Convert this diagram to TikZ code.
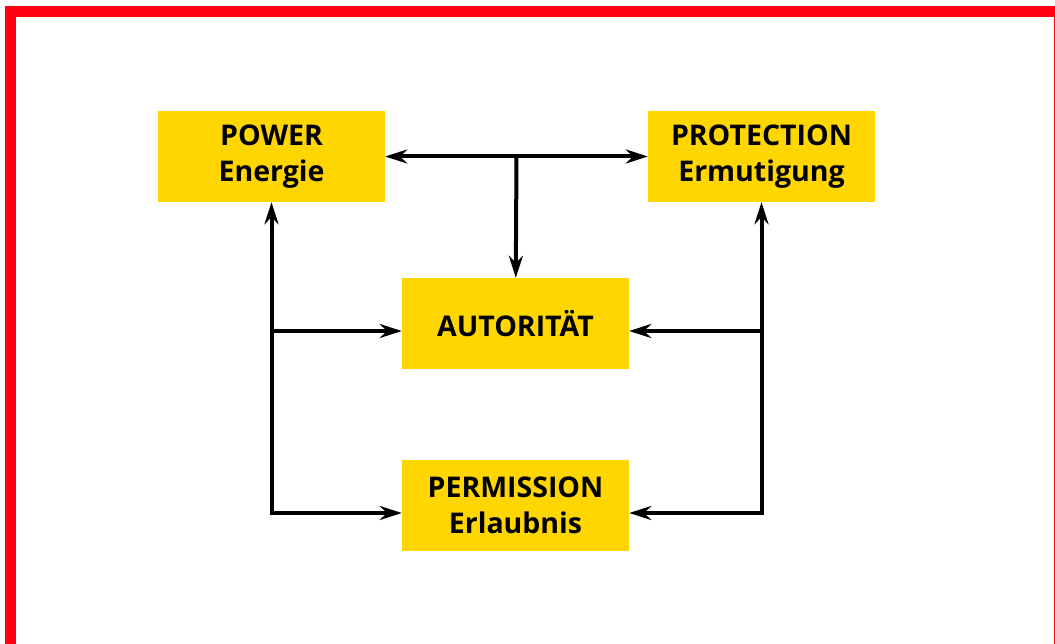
\documentclass[tikz,border=0pt]{standalone}
\usepackage{fontspec}
\setmainfont{Open Sans}
\usetikzlibrary{arrows.meta}
\definecolor{boxyellow}{RGB}{255,214,0}
\definecolor{framered}{RGB}{255,0,16}

\begin{document}
\begin{tikzpicture}[x=1pt, y=-1pt,
	box/.style={fill=boxyellow, minimum width=227pt, minimum height=91pt, inner sep=0pt,
		align=center, font=\fontsize{28.5}{36}\selectfont\bfseries},
	link/.style={line width=4pt, line cap=rect, -{Stealth[length=22pt, width=14pt]}},
	both/.style={line width=4pt, {Stealth[length=22pt, width=14pt]}-{Stealth[length=22pt, width=14pt]}}]
	\clip (0,0) rectangle (1055,644);
	\useasboundingbox (0,0) rectangle (1055,644);
	\draw[framered, line width=11pt] (10.5,11.5) rectangle (1059,649.5);
	
	\node[box] (power) at (271.5,156.5) {POWER\\Energie};
	\node[box] (protection) at (761.5,156.5) {PROTECTION\\Ermutigung};
	\node[box] (autoritaet) at (515.5,323.5) {AUTORITÄT};
	\node[box] (permission) at (515.5,505.5) {PERMISSION\\Erlaubnis};
	
	% top: power <-> protection, down to autoritaet
	\draw[both] (power) -- (protection) coordinate[midway] (mid);
	\draw[link] (mid) -- (autoritaet);
	
	% left side
	\coordinate (lbot) at (power.south |- 0,513);
	\draw[link] (lbot) -- (power);
	\draw[link] (power.south |- 0,331) -- (autoritaet.west |- 0,331);
	\draw[link] (lbot) -- (permission.west |- lbot);
	
	% right side
	\coordinate (rbot) at (protection.south |- 0,513);
	\draw[link] (rbot) -- (protection);
	\draw[link] (protection.south |- 0,331) -- (autoritaet.east |- 0,331);
	\draw[link] (rbot) -- (permission.east |- rbot);
\end{tikzpicture}
\end{document}
